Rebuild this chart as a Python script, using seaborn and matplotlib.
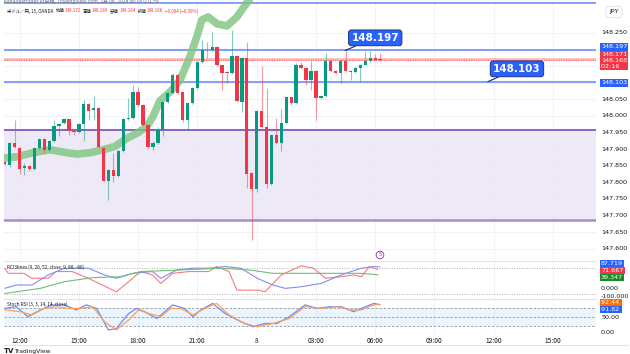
import numpy as np
import pandas as pd
import seaborn as sns
import matplotlib.pyplot as plt

# ---------------- data ----------------
opens = [147.862, 147.852, 147.918, 147.903, 147.842, 147.849, 147.839, 147.903, 147.930, 147.896,
         147.923, 147.971, 147.980, 147.990, 147.955, 147.950, 147.975, 148.036, 148.018, 148.023,
         147.903, 147.805, 147.837, 147.820, 147.893, 147.990, 147.993, 148.073, 148.033, 147.973,
         147.905, 147.918, 147.958, 148.041, 148.070, 148.123, 148.071, 147.988, 148.038, 148.083,
         148.161, 148.199, 148.197, 148.207, 148.152, 148.131, 148.129, 148.181, 148.043, 148.174,
         147.827, 147.780, 148.015, 147.966, 147.795, 147.941, 147.918, 147.978, 148.056, 148.038,
         148.154, 148.144, 148.108, 148.134, 148.053, 148.060, 148.164, 148.134, 148.129, 148.164,
         148.132, 148.132, 148.144, 148.154, 148.164, 148.174, 148.172]
closes = [147.855, 147.918, 147.905, 147.839, 147.849, 147.839, 147.903, 147.930, 147.896, 147.923,
          147.971, 147.975, 147.991, 147.953, 147.951, 147.975, 148.036, 148.016, 148.024, 147.905,
          147.805, 147.837, 147.820, 147.893, 147.991, 147.993, 148.071, 148.033, 147.973, 147.905,
          147.918, 147.958, 148.041, 148.070, 148.123, 148.068, 147.988, 148.038, 148.083, 148.161,
          148.199, 148.197, 148.207, 148.152, 148.129, 148.129, 148.181, 148.045, 148.174, 147.824,
          147.780, 148.015, 147.966, 147.795, 147.941, 147.918, 147.978, 148.056, 148.038, 148.154,
          148.144, 148.108, 148.134, 148.053, 148.060, 148.164, 148.134, 148.129, 148.164, 148.134,
          148.134, 148.144, 148.154, 148.164, 148.174, 148.169, 148.168]
highs = [147.865, 147.920, 147.988, 147.905, 147.857, 147.851, 147.905, 147.933, 147.933, 147.926,
         147.988, 147.978, 147.993, 147.992, 147.958, 147.978, 148.048, 148.040, 148.060, 148.026,
         147.905, 147.839, 147.888, 147.896, 147.993, 148.053, 148.093, 148.088, 148.036, 147.976,
         147.923, 147.968, 148.043, 148.073, 148.129, 148.127, 148.073, 148.040, 148.086, 148.164,
         148.229, 148.224, 148.254, 148.209, 148.154, 148.134, 148.259, 148.184, 148.177, 148.224,
         147.832, 148.018, 148.149, 148.083, 147.943, 147.993, 148.020, 148.058, 148.058, 148.159,
         148.161, 148.146, 148.164, 148.137, 148.063, 148.189, 148.169, 148.137, 148.167, 148.197,
         148.139, 148.146, 148.157, 148.194, 148.194, 148.187, 148.189]
lows = [147.851, 147.847, 147.902, 147.825, 147.822, 147.835, 147.837, 147.900, 147.888, 147.894,
        147.920, 147.938, 147.976, 147.943, 147.943, 147.948, 147.923, 147.988, 147.988, 147.903,
        147.803, 147.747, 147.802, 147.817, 147.890, 147.988, 147.990, 148.030, 147.970, 147.903,
        147.898, 147.916, 147.938, 148.038, 148.068, 148.066, 147.983, 147.958, 148.036, 148.080,
        148.159, 148.174, 148.194, 148.149, 148.078, 148.098, 148.127, 148.043, 148.013, 147.782,
        147.627, 147.772, 147.963, 147.782, 147.792, 147.916, 147.893, 147.976, 148.033, 148.036,
        148.142, 148.093, 148.078, 147.988, 148.050, 148.058, 148.131, 148.127, 148.098, 148.131,
        148.108, 148.129, 148.103, 148.152, 148.162, 148.167, 148.164]

# thick green moving average (bar index, price)
ma_idx = [-0.2, 2.5, 5.7, 9.2, 12.6, 14.6, 17.3, 19.9, 22.3, 24.8, 26.8, 28.8, 30.0, 31.4,
          33.5, 35.5, 37.5, 38.9, 39.9, 41.2, 43.0, 45.0, 47.0, 49.0, 50.5]
ma_val = [147.873, 147.877, 147.889, 147.898, 147.889, 147.885, 147.889, 147.898, 147.908,
          147.933, 147.948, 147.968, 147.998, 148.045, 148.073, 148.108, 148.179, 148.239,
          148.289, 148.298, 148.277, 148.271, 148.298, 148.340, 148.37]

# horizontal levels
blue_levels = [148.339, 148.197, 148.103]
red_level = 148.171
last_price = 148.168
zone_top, zone_bottom = 147.958, 147.687

# RCI 3 lines
rci_red_x = [0, 0.7, 3.9, 5.5, 8.8, 10.4, 13.7, 16.9, 22.6, 25.1, 27.5, 29.9, 31.6, 34.0, 37.3,
             41.3, 42.9, 45.4, 47.0, 51.1, 52.7, 56.0, 60.0, 62.5, 64.9, 68.1, 70.6, 72.2, 73.8, 75.5]
rci_red = [80, 48, 48, 17, 17, 59, 59, 17, -67, -4, 59, 38, -15, 48, 59, 59, 90, 59, -57, -57,
           -67, 38, 95, 80, 17, 27, 38, 27, 90, 72]
rci_blue_x = [0, 2.3, 5.5, 8.8, 12.1, 16.9, 20.2, 22.6, 25.9, 29.9, 31.6, 34.8, 38.1, 41.3, 44.6,
              47.8, 51.1, 54.3, 56.8, 60.0, 64.1, 68.1, 72.2, 74.7, 75.9]
rci_blue = [-46, -25, -25, 38, 80, 80, 38, 17, 48, 59, 17, 69, 80, 80, 90, 80, 17, -25, -46,
            -36, -15, 38, 80, 90, 88]
rci_green_x = [0, 7.2, 12.1, 17.8, 23.4, 27.5, 35.6, 43.8, 49.5, 54.3, 64.1, 72.2, 75.5]
rci_green = [-78, -46, -4, 21, 27, 59, 69, 80, 69, 48, 48, 48, 39]

# Stoch RSI
k_x = [0, 2.3, 4.7, 7.2, 9.6, 12.1, 14.5, 16.5, 18.6, 21.0, 22.6, 25.1, 26.7, 28.3, 30.8, 32.4,
       34.0, 36.4, 38.1, 39.7, 42.1, 44.6, 47.8, 50.3, 52.7, 55.1, 57.6, 60.8, 63.3, 65.7, 68.1,
       70.6, 72.2, 74.7, 76]
k_val = [79, 85, 51, 74, 91, 91, 74, 91, 79, 6, 11, 62, 79, 68, 45, 68, 91, 79, 51, 74, 96, 62,
         34, 17, 28, 28, 51, 91, 79, 85, 85, 68, 79, 96, 91.82]
d_x = [0, 3.1, 5.5, 8.0, 10.4, 12.9, 15.3, 17.8, 20.2, 22.6, 25.1, 27.1, 29.1, 31.6, 33.6, 35.6,
       38.1, 40.5, 42.9, 45.4, 48.6, 51.1, 54.3, 57.6, 60.8, 64.1, 67.3, 69.8, 72.2, 74.7, 76]
d_val = [74, 68, 57, 79, 85, 79, 79, 85, 34, 6, 40, 74, 62, 51, 79, 79, 57, 79, 96, 57, 28, 17,
         28, 45, 85, 79, 85, 74, 74, 91, 92.44]

time_pos = [3, 15, 27, 39, 51, 63, 75, 87, 99, 111]
time_labels = ["12:00", "15:00", "18:00", "21:00", "8", "03:00", "06:00", "09:00", "12:00", "15:00"]
price_ticks = [148.25, 148.05, 148.00, 147.95, 147.90, 147.85, 147.80, 147.75, 147.70, 147.65, 147.60]

# ---------------- style ----------------
sns.set_theme(style="white")
plt.rcParams['font.family'] = ['Noto Sans CJK JP', 'DejaVu Sans']

GREEN = "#089981"
RED = "#f23645"
BLUE = "#2962ff"
TXT = "#131722"
GRID = "#f0f3fa"

W, H = 630, 354
fig = plt.figure(figsize=(6.3, 3.54), dpi=100)
fig.patch.set_facecolor("white")


def rect(x0, y0, x1, y1):
    return [x0 / W, 1 - y1 / H, (x1 - x0) / W, (y1 - y0) / H]


ax = fig.add_axes(rect(4, 0, 596, 260))
ax1 = fig.add_axes(rect(4, 261, 596, 299), sharex=ax)
ax2 = fig.add_axes(rect(4, 299, 596, 335), sharex=ax)

for a in (ax, ax1, ax2):
    for s in a.spines.values():
        s.set_visible(False)
    a.set_facecolor("white")
    a.tick_params(left=False, right=False, bottom=False, labelleft=False, labelbottom=False)
    for t in time_pos:
        a.axvline(t, color=GRID, lw=0.8, zorder=0)
for a in (ax1, ax2):
    a.spines['top'].set_visible(True)
    a.spines['top'].set_color("#e0e3eb")
    a.spines['top'].set_linewidth(0.8)

XL = (-0.15, 119.7)
ax.set_xlim(*XL)
ax.set_ylim(147.566, 148.349)
for p in price_ticks + [148.20, 148.15, 148.10]:
    ax.axhline(p, color=GRID, lw=0.8, zorder=0)

# zone
ax.axhspan(zone_bottom, zone_top, color="#ede7f6", alpha=0.9, zorder=0.5, lw=0)
ax.axhline(zone_top, color="#7e57c2", lw=1.3, zorder=1)
ax.axhline(zone_bottom, color="#9a7fd1", lw=1.8, alpha=0.9, zorder=1)

# levels
for lv in blue_levels:
    ax.axhline(lv, color="#6e8ef7", lw=1.4, alpha=0.85, zorder=1)
ax.axhline(red_level, color="#f7a1a8", lw=1.8, alpha=0.8, zorder=1)
ax.axhline(last_price, color=RED, lw=0.7, ls=(0, (1, 1.5)), alpha=0.8, zorder=1)

# moving average
sns.lineplot(x=ma_idx, y=ma_val, ax=ax, color="#7cc57f", lw=5.5, alpha=0.8,
             estimator=None, sort=False, zorder=2, solid_capstyle="round")

# candles
o = np.array(opens); c = np.array(closes); h = np.array(highs); l = np.array(lows)
idx = np.arange(len(o))
cols = np.where(c >= o, GREEN, RED)
ax.vlines(idx, l, h, colors=cols, lw=0.8, alpha=0.5, zorder=3)
bottom = np.minimum(o, c)
height = np.maximum(np.abs(c - o), 0.0015)
ax.bar(idx, height, bottom=bottom, width=0.68, color=cols, zorder=4, lw=0)

# callouts
for (px, pv, tx, tv, s) in [(68.9, 148.197, 75.0, 148.235, "148.197"),
                            (97.8, 148.103, 103.7, 148.1416, "148.103")]:
    ax.annotate(s, xy=(px, pv), xytext=(tx, tv), ha="center", va="center",
                color="white", fontsize=7.5, fontweight="bold", family="DejaVu Sans",
                bbox=dict(boxstyle="round,pad=0.28", fc=BLUE, ec="#1c2a5e", lw=0.6),
                arrowprops=dict(arrowstyle="-", color="#1c2a5e", lw=0.8, shrinkA=0, shrinkB=0),
                zorder=6)

# ---------------- RCI panel ----------------
ax1.set_ylim(-112.5, 125)
for lv in (80, -80):
    ax1.axhline(lv, color="#9598a1", lw=0.6, ls=(0, (1, 2)))
sns.lineplot(x=rci_red_x, y=rci_red, ax=ax1, color="#f77c80", lw=0.8, estimator=None, sort=False)
sns.lineplot(x=rci_blue_x, y=rci_blue, ax=ax1, color="#7f8ff5", lw=0.8, estimator=None, sort=False)
sns.lineplot(x=rci_green_x, y=rci_green, ax=ax1, color="#6fbf73", lw=0.8, estimator=None, sort=False)

# ---------------- Stoch RSI panel ----------------
ax2.set_ylim(-11, 111)
ax2.axhspan(20, 80, color="#2196f3", alpha=0.09, lw=0)
for lv in (80, 50, 20):
    ax2.axhline(lv, color="#9598a1", lw=0.6, ls=(0, (3, 2)))
sns.lineplot(x=k_x, y=k_val, ax=ax2, color="#6f8cf7", lw=0.9, estimator=None, sort=False)
sns.lineplot(x=d_x, y=d_val, ax=ax2, color="#ffa05a", lw=0.9, estimator=None, sort=False)
ax2.set_xticks(time_pos)
ax2.set_xticklabels(time_labels)
ax2.tick_params(labelbottom=True, labelsize=4.8, labelcolor=TXT, pad=1.5, length=0)
ax2.set_xlim(*XL)
ax1.set_xlabel(""); ax2.set_xlabel("")


# ---------------- right price scale texts ----------------
def ptext(y, s, color=TXT, fc=None, size=4.6):
    kw = {}
    if fc is not None:
        kw["bbox"] = dict(boxstyle="square,pad=0.18", fc=fc, ec="none")
    fig.text(601 / W, 1 - y / H, s, fontsize=size, va="center", ha="left", color=color,
             family="DejaVu Sans", linespacing=1.15, **kw)


def price_to_px(v):
    return H - ax.transData.transform((0, v))[1]


for p in price_ticks:
    ptext(price_to_px(p), f"{p:.3f}")
ptext(47, "148.197", "white", BLUE)
ptext(60.5, "148.171\n148.168\n02:16  ", "white", RED)
ptext(83, "148.103", "white", BLUE)

ptext(263.5, "87.719", "white", BLUE)
ptext(270.5, "71.667", "white", RED)
ptext(277.5, "39.347", "white", "#1b8a2a")
ptext(288, "0.000")
ptext(296.5, "-100.000")

ptext(303, "92.44 ", "white", "#ff6d00")
ptext(309.5, "91.82 ", "white", BLUE)
ptext(317.5, "50.00")
ptext(332, "0.00")

# JPY box
fig.text(614 / W, 1 - 12 / H, "JPY", fontsize=4.6, ha="center", va="center", color=TXT,
         family="DejaVu Sans",
         bbox=dict(boxstyle="round,pad=0.5", fc="white", ec="#e0e3eb", lw=0.6))


# ---------------- chained header texts ----------------
def chain_texts(x, y, parts, size, fam=None):
    kw = {} if fam is None else {"family": fam}
    first = fig.text(x / W, 1 - y / H, parts[0][0], fontsize=size, color=parts[0][1],
                     va="center", ha="left")
    prev = first
    for s, col, gap in parts[1:]:
        prev = ax.annotate(s, xy=(1, 0.5), xycoords=prev, xytext=(gap, 0),
                           textcoords="offset points", fontsize=size, color=col,
                           va="center", ha="left", annotation_clip=False, **kw)
    return first


fig.text(4 / W, 1 - 1.5 / H, "kanaokatrader の投稿, TradingView.com, 2月 08, 2024 06:14 UTC+9",
         fontsize=3.6, color="#666", va="center", ha="left")

chain_texts(7, 11, [("米ドル／円, 15, OANDA", TXT),
                    ("始値", TXT, 1.5), ("148.172", RED, 0.3),
                    ("高値", TXT, 1.5), ("148.189", RED, 0.3),
                    ("安値", TXT, 1.5), ("148.164", RED, 0.3),
                    ("終値", TXT, 1.5), ("148.168", RED, 0.3),
                    ("−0.004 (−0.00%)", RED, 1.5)], 3.2)

chain_texts(7, 267, [("RCI3lines (9, 26, 52, close, 9, 80, -80)", TXT),
                     ("71.667", RED, 1.5), ("87.719", BLUE, 1.5), ("39.347", "#1b8a2a", 1.5)], 3.4)
chain_texts(7, 304, [("Stoch RSI (3, 3, 14, 14, close)", TXT),
                     ("91.82", BLUE, 1.5), ("92.44", "#ff6d00", 1.5)], 3.4)

# event marker
fig.text(380 / W, 1 - 255 / H, "5", fontsize=3.8, color="#9c27b0", ha="center", va="center",
         family="DejaVu Sans",
         bbox=dict(boxstyle="circle,pad=0.25", fc="white", ec="#9c27b0", lw=0.6))

# frame bottom and logo
fig.add_artist(plt.Line2D([4 / W, 628 / W], [1 - 345 / H, 1 - 345 / H], color="#e0e3eb", lw=0.8))
fig.text(4 / W, 1 - 351 / H, "TV", fontsize=5, fontweight="bold", color=TXT, va="center",
         family="DejaVu Sans")
fig.text(14 / W, 1 - 351 / H, "TradingView", fontsize=4.3, color=TXT, va="center",
         family="DejaVu Sans")

fig.savefig("out.png", dpi=100)
